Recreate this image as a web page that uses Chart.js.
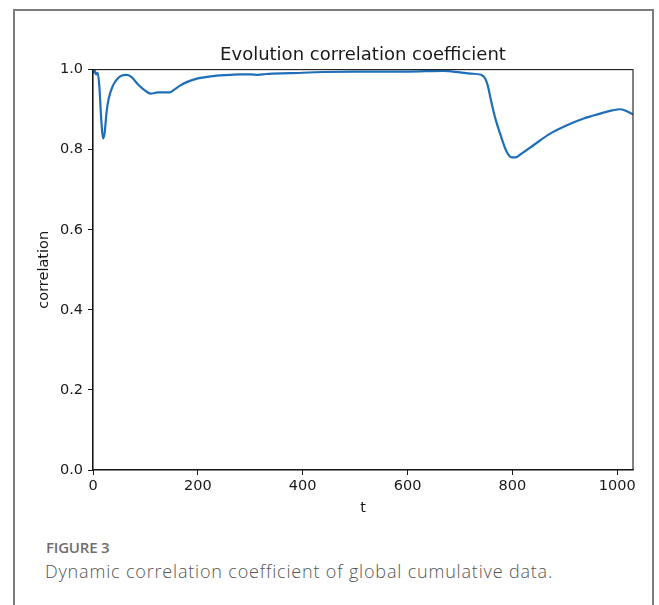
<!DOCTYPE html>
<html>
<head>
<meta charset="utf-8">
<script src="https://cdn.jsdelivr.net/npm/chart.js@4.4.1/dist/chart.umd.min.js"></script>
<style>
  html, body { margin: 0; padding: 0; background: #fff; }
  body { width: 659px; height: 605px; position: relative; overflow: hidden; }
  .frame {
    position: absolute; left: 13px; top: 9px; width: 637px; height: 620px;
    border-left: 2px solid #7c7c7c; border-top: 2px solid #7c7c7c; border-right: 2px solid #7c7c7c;
  }
  #chart { position: absolute; left: 0; top: 0; }
  .fig-label {
    position: absolute; left: 46px; top: 537px;
    font-family: "Open Sans", "Noto Sans", sans-serif; font-weight: 600; font-size: 15px;
    color: #6e6e6e; letter-spacing: -0.2px;
  }
  .fig-caption {
    position: absolute; left: 45px; top: 559px;
    font-family: "Open Sans", "Noto Sans", sans-serif; font-weight: 300; font-size: 18px;
    color: #555; letter-spacing: 0.82px;
  }
</style>
</head>
<body>
<div class="frame"></div>
<canvas id="chart" width="659" height="530"></canvas>
<div class="fig-label">FIGURE 3</div>
<div class="fig-caption">Dynamic correlation coefficient of global cumulative data.</div>
<script>
// ——— DATA ———
const tValues = [0, 3, 6, 9, 12, 16, 19, 22, 26, 30, 38, 47, 55, 63, 72, 86, 100, 110, 124, 146, 155, 166, 181, 200,
    225, 250, 280, 300, 315, 330, 376, 440, 500, 600, 668, 700, 720, 740, 748, 753, 758, 767, 777, 789, 799, 806,
    815, 840, 872, 904, 936, 967, 990, 1005, 1015, 1030];
const corrValues = [0.990, 0.998, 0.988, 0.992, 0.960, 0.870, 0.828, 0.840, 0.895, 0.928, 0.960, 0.978, 0.985, 0.987,
    0.983, 0.963, 0.947, 0.940, 0.943, 0.943, 0.950, 0.960, 0.970, 0.978,
    0.983, 0.986, 0.988, 0.988, 0.987, 0.989, 0.991, 0.994, 0.995, 0.995, 0.997, 0.993, 0.990, 0.987, 0.978, 0.960,
    0.930, 0.880, 0.838, 0.795, 0.781, 0.781,
    0.788, 0.811, 0.840, 0.861, 0.878, 0.890, 0.898, 0.901, 0.898, 0.888];
const xTicks = [0, 200, 400, 600, 800, 1000];
const yTicks = [0.0, 0.2, 0.4, 0.6, 0.8, 1.0];

const axisFont = { family: "'DejaVu Sans', sans-serif", size: 14.5 };
const ink = '#1a1a1a';

// top + right spines, like matplotlib
const boxPlugin = {
    id: 'box',
    afterDraw(chart) {
        const { ctx, chartArea: a } = chart;
        ctx.save();
        ctx.strokeStyle = ink;
        ctx.lineWidth = 1.1;
        ctx.strokeRect(a.left, a.top, a.right - a.left, a.bottom - a.top);
        ctx.restore();
    }
};

new Chart(document.getElementById('chart').getContext('2d'), {
    type: 'line',
    data: {
        datasets: [{
            data: tValues.map((t, i) => ({ x: t, y: corrValues[i] })),
            borderColor: '#1f6fb8',
            borderWidth: 2.2,
            pointRadius: 0,
            cubicInterpolationMode: 'monotone',
            fill: false
        }]
    },
    options: {
        responsive: false,
        animation: false,
        layout: { padding: { left: 0, right: 26, top: 0, bottom: 0 } },
        plugins: {
            legend: { display: false },
            tooltip: { enabled: false },
            title: {
                display: true,
                fullSize: false,   // centre over the plot area, not the canvas
                text: 'Evolution correlation coefficient',
                color: ink,
                font: { family: "'DejaVu Sans', sans-serif", size: 18, weight: 'normal' },
                padding: { top: 45, bottom: 3 }
            }
        },
        scales: {
            x: {
                type: 'linear',
                min: 0,
                max: 1030,
                afterBuildTicks: s => { s.ticks = xTicks.map(v => ({ value: v })); },
                afterFit: s => { s.height = 60; },
                grid: { drawOnChartArea: false, drawTicks: true, tickLength: 5, tickColor: ink, color: ink },
                border: { display: true, color: ink, width: 1.1 },
                ticks: { color: ink, font: axisFont, padding: 3, maxRotation: 0, callback: v => String(v) },
                title: { display: true, text: 't', color: ink, font: axisFont, padding: { top: 0, bottom: 13 } }
            },
            y: {
                min: 0,
                max: 1.0,
                afterBuildTicks: s => { s.ticks = yTicks.map(v => ({ value: v })); },
                afterFit: s => { s.width = 93; },
                grid: { drawOnChartArea: false, drawTicks: true, tickLength: 5, tickColor: ink, color: ink },
                border: { display: true, color: ink, width: 1.1 },
                ticks: { color: ink, font: axisFont, padding: 5, callback: v => v.toFixed(1) },
                title: { display: true, text: 'correlation', color: ink, font: axisFont, padding: { top: 36, bottom: 0 } }
            }
        }
    },
    plugins: [boxPlugin]
});
</script>
</body>
</html>
